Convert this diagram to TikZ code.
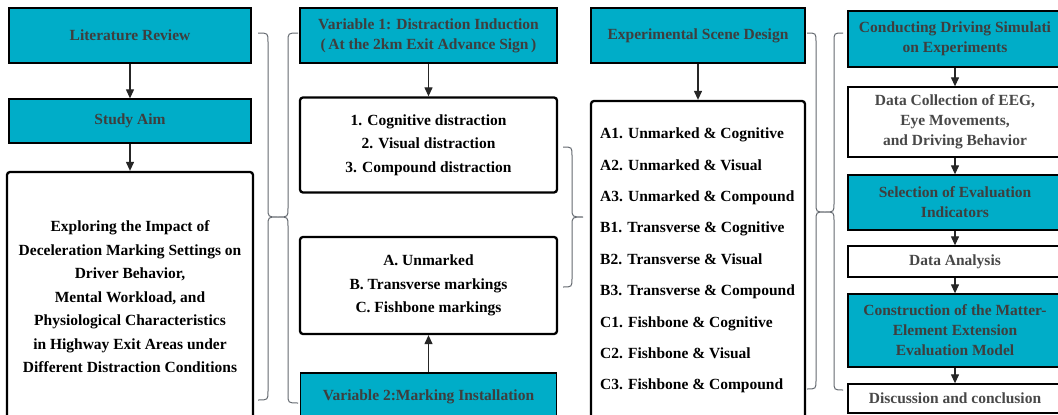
\documentclass[tikz,border=0pt]{standalone}
\usepackage{fontspec}
\setmainfont{Liberation Serif}
\usetikzlibrary{arrows.meta}
\definecolor{cyanbox}{RGB}{0,173,200}
\definecolor{hdtext}{RGB}{62,62,62}
\definecolor{brcol}{RGB}{100,105,112}
\definecolor{graytext}{RGB}{72,72,72}
\begin{document}
\begin{tikzpicture}[x=1pt,y=-1pt,
 hdr/.style={draw=black, line width=1.3pt, fill=cyanbox, text=hdtext, font=\fontsize{15.5}{20}\bfseries\selectfont, align=center, inner sep=0pt},
 rbox/.style={draw=black, line width=2.3pt, rounded corners=3pt, fill=white, text=black, font=\fontsize{15.5}{23.5}\bfseries\selectfont, align=center, inner sep=0pt},
 wbox/.style={draw=black, line width=1.3pt, fill=white, text=graytext, font=\fontsize{15.5}{19.8}\bfseries\selectfont, align=center, inner sep=0pt},
 arr/.style={-{Triangle[length=9pt,width=8pt]}, line width=1.2pt, draw=black!85},
 brc/.style={draw=brcol, line width=1pt}]
\useasboundingbox (0,0) rectangle (1058,415);
\fill[white] (0,0) rectangle (1058,415);
\clip (0,0) rectangle (1058,415);

% Column 1
\node[hdr, minimum width=242pt, minimum height=55pt] (lit) at (130,35.5) {Literature Review};
\node[hdr, minimum width=242pt, minimum height=44pt] (aim) at (130,121) {Study Aim};
\node[rbox, minimum width=246pt, minimum height=250pt] (expl) at (130,297) {Exploring the Impact of\\Deceleration Marking Settings on\\Driver Behavior,\\Mental Workload, and\\Physiological Characteristics\\in Highway Exit Areas under\\Different Distraction Conditions};
\draw[arr] (lit.south) -- (aim.north);
\draw[arr] (aim.south) -- (expl.north);

% Column 2
\node[hdr, minimum width=257pt, minimum height=55pt] (var1) at (428.5,35.5) {Variable 1: Distraction Induction\\(\,At the 2km Exit Advance Sign\,)};
\node[rbox, minimum width=257pt, minimum height=95pt] (dis) at (428.5,145) {1. Cognitive distraction\\2. Visual distraction\\3. Compound distraction};
\node[rbox, minimum width=257pt, minimum height=97pt] (mark) at (428.5,285.5) {A. Unmarked\\B. Transverse markings\\C. Fishbone markings};
\node[hdr, minimum width=256pt, minimum height=48pt] (var2) at (428.5,397) {Variable 2:Marking Installation};
\draw[arr] (var1.south) -- (dis.north);
\draw[arr] (var2.north) -- (mark.south);

% Column 3
\node[hdr, minimum width=214pt, minimum height=55pt] (esd) at (698,35.5) {Experimental Scene Design};
\node[rbox, minimum width=214pt, minimum height=319pt] (list) at (698,260.5) {};
\node[anchor=west, inner sep=0pt, align=left, font=\fontsize{15.5}{31.4}\bfseries\selectfont] (listtxt) at (600,260.5) {A1. Unmarked \& Cognitive\\A2. Unmarked \& Visual\\A3. Unmarked \& Compound\\B1. Transverse \& Cognitive\\B2. Transverse \& Visual\\B3. Transverse \& Compound\\C1. Fishbone \& Cognitive\\C2. Fishbone \& Visual\\C3. Fishbone \& Compound};
\draw[arr] (esd.south) -- (list.north);

% Column 4
\node[hdr, minimum width=214pt, minimum height=56pt] (cond) at (955,39) {Conducting Driving Simulati\\on Experiments};
\node[wbox, minimum width=214pt, minimum height=70pt] (dc) at (955,122) {Data Collection of EEG,\\Eye Movements,\\and Driving Behavior};
\node[hdr, minimum width=214pt, minimum height=55pt] (sel) at (955,202.5) {Selection of Evaluation\\Indicators};
\node[wbox, minimum width=214pt, minimum height=31pt] (da) at (955,261.5) {Data Analysis};
\node[hdr, minimum width=214pt, minimum height=73pt] (cons) at (955,330.5) {Construction of the Matter-\\Element Extension\\Evaluation Model};
\node[wbox, minimum width=214pt, minimum height=29pt] (disc) at (955,398.5) {Discussion and conclusion};
\draw[arr] (cond.south) -- (dc.north);
\draw[arr] (dc.south) -- (sel.north);
\draw[arr] (sel.south) -- (da.north);
\draw[arr] (da.south) -- (cons.north);
\draw[arr] (cons.south) -- (disc.north);

% Braces
\coordinate (t1) at (278,217);
\coordinate (t3) at (583,217);
\coordinate (t4) at (825,212);
\draw[brc] (258,33) .. controls (268,33) .. (268,42) -- (268,208) .. controls (268,217) .. (t1) .. controls (268,217) .. (268,226) -- (268,391) .. controls (268,400) .. (258,400);
\draw[brc] (298,33) .. controls (288,33) .. (288,42) -- (288,208) .. controls (288,217) .. (t1) .. controls (288,217) .. (288,226) -- (288,394) .. controls (288,403) .. (298,403);
\draw[brc] (563,147) .. controls (572,147) .. (572,156) -- (572,208) .. controls (572,217) .. (t3) .. controls (572,217) .. (572,226) -- (572,278) .. controls (572,287) .. (563,287);
\draw[brc] (807,33) .. controls (816,33) .. (816,42) -- (816,203) .. controls (816,212) .. (t4) .. controls (816,212) .. (816,221) -- (816,380) .. controls (816,389) .. (807,389);
\draw[brc] (843,33) .. controls (834,33) .. (834,42) -- (834,203) .. controls (834,212) .. (t4) .. controls (834,212) .. (834,221) -- (834,381) .. controls (834,390) .. (843,390);
\end{tikzpicture}
\end{document}
